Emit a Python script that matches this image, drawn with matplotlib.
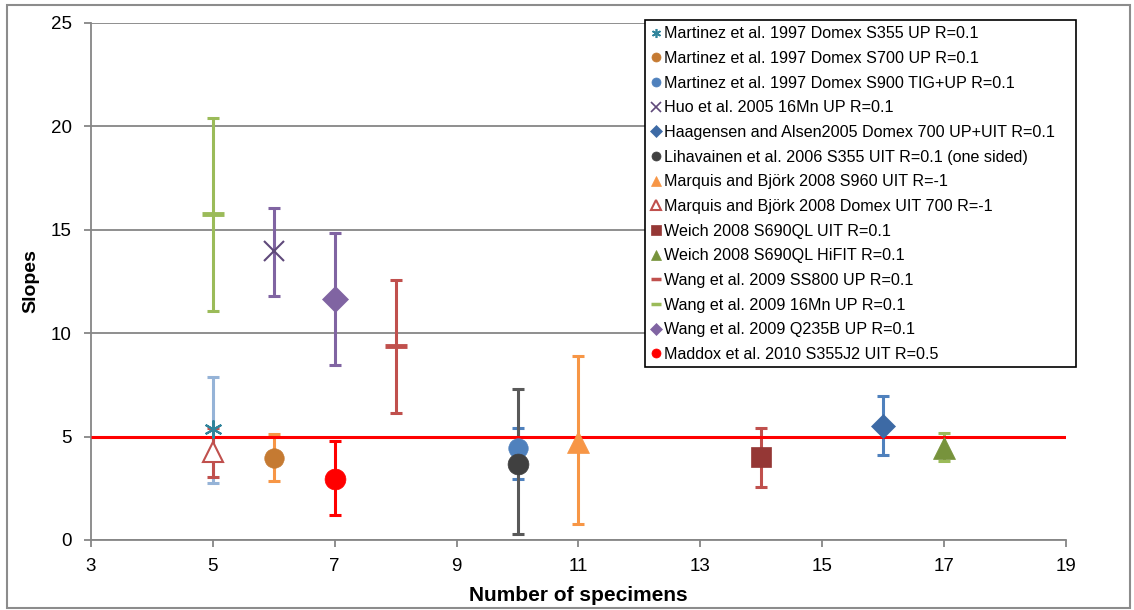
import matplotlib
matplotlib.use("Agg")
import matplotlib.pyplot as plt
from matplotlib.lines import Line2D
from matplotlib.patches import Rectangle


# =========================
# Data
# =========================
labels = [
    "Martinez et al. 1997 Domex S355 UP R=0.1",
    "Martinez et al. 1997 Domex S700 UP R=0.1",
    "Martinez et al. 1997 Domex S900 TIG+UP R=0.1",
    "Huo et al. 2005 16Mn UP R=0.1",
    "Haagensen and Alsen2005 Domex 700 UP+UIT R=0.1",
    "Lihavainen et al. 2006 S355 UIT R=0.1 (one sided)",
    "Marquis and Björk 2008 S960 UIT R=-1",
    "Marquis and Björk 2008 Domex UIT 700 R=-1",
    "Weich 2008 S690QL UIT R=0.1",
    "Weich 2008 S690QL HiFIT R=0.1",
    "Wang et al. 2009 SS800 UP R=0.1",
    "Wang et al. 2009 16Mn UP R=0.1",
    "Wang et al. 2009 Q235B UP R=0.1",
    "Maddox et al. 2010 S355J2 UIT R=0.5",
]
specimens = [5, 6, 10, 6, 16, 10, 11, 5, 14, 17, 8, 5, 7, 7]
slopes = [5.35, 3.97, 4.46, 13.97, 5.53, 3.67, 4.75, 4.25, 4.0, 4.45, 9.38, 15.78, 11.67, 2.95]
err_high = [7.9, 5.12, 5.43, 16.07, 6.98, 7.3, 8.88, 5.4, 5.4, 5.19, 12.59, 20.39, 14.84, 4.8]
err_low = [2.75, 2.85, 2.95, 11.8, 4.11, 0.29, 0.77, 3.05, 2.58, 3.82, 6.13, 11.09, 8.46, 1.2]

marker_colors = ["#31859C", "#C57A32", "#4F81BD", "#5F497A", "#3D6AA5", "#404040", "#F79646",
                 "#C0504D", "#953735", "#77933C", "#C0504D", "#9BBB59", "#8064A2", "#FF0000"]
bar_colors = ["#95B3D7", "#F79646", "#4F81BD", "#8064A2", "#4F81BD", "#595959", "#F79646",
              "#C0504D", "#C0504D", "#9BBB59", "#C0504D", "#9BBB59", "#8064A2", "#FF0000"]
markers = [(6, 2, 0), "o", "o", "x", "D", "o", "^", "^", "s", "^", "_", "_", "D", "o"]
marker_sizes = [13, 14, 14, 14, 12, 15, 16, 15, 14, 16, 16, 16, 13, 15]
open_marker = [False] * 7 + [True] + [False] * 6

ref_x = [3, 19]
ref_y = [5, 5]

plt.rcParams["font.family"] = ["Liberation Sans", "DejaVu Sans"]

W, H = 1134, 610
fig = plt.figure(figsize=(W / 100, H / 100), dpi=100)
# outer chart border
fig.add_artist(Rectangle((7 / W, 2 / H), 1123 / W, 603 / H,
                         transform=fig.transFigure, fill=False,
                         edgecolor="#8C8C8C", lw=1.5))
ax = fig.add_axes([0.0802, 0.1148, 0.8598, 0.8475])

grid_c = "#868686"
for i in range(len(labels)):
    x = specimens[i]
    y = slopes[i]
    ax.errorbar([x], [y], yerr=[[y - err_low[i]], [err_high[i] - y]],
                fmt="none", ecolor=bar_colors[i], elinewidth=2.2,
                capsize=4.5, capthick=2.2, zorder=3)

ax.plot(ref_x, ref_y, color="#FF0000", lw=2.2, zorder=4, solid_capstyle="butt")

handles = []
for i in range(len(labels)):
    kw = dict(marker=markers[i], markersize=marker_sizes[i], linestyle="none")
    if markers[i] in ("x", "_") or isinstance(markers[i], tuple):
        kw.update(color=marker_colors[i], markeredgewidth=1.5 if markers[i] != "_" else 3.5)
    elif open_marker[i]:
        kw.update(markerfacecolor="white", markeredgecolor=marker_colors[i], markeredgewidth=1.5)
    else:
        kw.update(markerfacecolor=marker_colors[i], markeredgecolor=marker_colors[i], markeredgewidth=0.5)
    ax.plot([specimens[i]], [slopes[i]], zorder=5, **kw)

    hkw = dict(kw)
    hkw["markersize"] = 6.5 if markers[i] != "_" else 7
    if markers[i] == "_":
        hkw["markeredgewidth"] = 2.5
    if markers[i] == "x" or isinstance(markers[i], tuple):
        hkw["markeredgewidth"] = 1.2
    handles.append(Line2D([], [], **hkw))

ax.set_xlim(3, 19)
ax.set_ylim(0, 25)
ax.set_xticks(range(3, 20, 2))
ax.set_yticks(range(0, 26, 5))
ax.yaxis.grid(True, color=grid_c, lw=1.3)
ax.set_axisbelow(True)
for s in ("top", "right"):
    ax.spines[s].set_visible(False)
for s in ("left", "bottom"):
    ax.spines[s].set_color(grid_c)
    ax.spines[s].set_linewidth(1.3)
ax.tick_params(axis="both", direction="out", length=5, width=1.3, color=grid_c,
               labelsize=13.5)
ax.tick_params(axis="y", pad=9)
ax.tick_params(axis="x", pad=8)
ax.set_xlabel("Number of specimens", fontsize=15, fontweight="bold", labelpad=8)
ax.set_ylabel("Slopes", fontsize=14, fontweight="bold", labelpad=8)

# legend box drawn separately so it can be wider than its text, as in the original
fig.add_artist(Rectangle((645 / W, (H - 367) / H), 431 / W, 347 / H,
                         transform=fig.transFigure, facecolor="white",
                         edgecolor="black", lw=1.2, zorder=6))
leg = ax.legend(handles, labels, loc="upper left",
                bbox_to_anchor=(645 / W, (H - 20) / H),
                bbox_transform=fig.transFigure, borderaxespad=0,
                fontsize=11.6, frameon=False,
                handlelength=0.6, handletextpad=0.2, labelspacing=0.6,
                borderpad=0.4)
leg.set_zorder(7)
fig.add_artist(leg)

fig.savefig("out.png", dpi=100)
